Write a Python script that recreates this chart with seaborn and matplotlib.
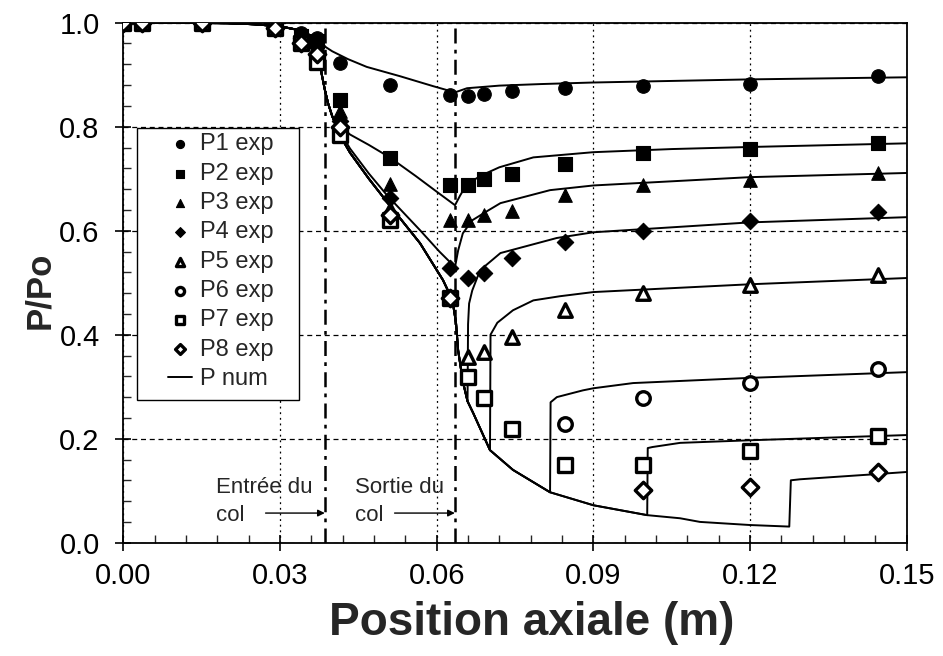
import numpy as np
import pandas as pd
import matplotlib
matplotlib.use("Agg")
import matplotlib.pyplot as plt
from matplotlib.patches import Rectangle
import seaborn as sns

sns.set_style("ticks")
plt.rcParams["font.family"] = ["Liberation Sans", "DejaVu Sans"]

# experimental pressure taps (x in m, P/Po)
x_exp = [0.0, 0.0035, 0.015, 0.029, 0.034, 0.037, 0.0415, 0.051, 0.0625,
         0.066, 0.069, 0.0745, 0.0845, 0.0995, 0.12, 0.1445]
nan = np.nan
p1_exp = [1.0, 1.0, 1.0, 0.995, 0.98, 0.97, 0.922, 0.880, 0.860,
          0.859, 0.863, 0.868, 0.875, 0.879, 0.883, 0.897]
p2_exp = [1.0, 1.0, 1.0, 0.99, 0.975, 0.965, 0.851, 0.740, 0.688,
          0.688, 0.699, 0.709, 0.728, 0.749, 0.757, 0.768]
p3_exp = [1.0, 1.0, 1.0, 0.99, 0.975, 0.96, 0.83, 0.689, 0.620,
          0.620, 0.630, 0.637, 0.668, 0.688, 0.697, 0.711]
p4_exp = [1.0, 1.0, 1.0, 0.99, 0.97, 0.955, 0.81, 0.662, 0.528,
          0.509, 0.519, 0.548, 0.578, 0.600, 0.618, 0.636]
p5_exp = [1.0, 1.0, 1.0, 0.99, 0.965, 0.95, 0.80, 0.640, 0.470,
          0.357, 0.367, 0.395, 0.447, 0.480, 0.495, 0.514]
p6_exp = [1.0, 1.0, 1.0, 0.99, 0.96, 0.93, 0.79, 0.625, 0.470,
          nan, nan, nan, 0.229, 0.278, 0.307, 0.334]
p7_exp = [1.0, 1.0, 1.0, 0.99, 0.96, 0.925, 0.785, 0.620, 0.470,
          0.319, 0.278, 0.218, 0.149, 0.149, 0.176, 0.205]
p8_exp = [1.0, 1.0, 1.0, 0.99, 0.96, 0.94, 0.80, 0.63, 0.47,
          nan, nan, nan, nan, 0.101, 0.107, 0.136]

# numerical curves
x_inlet = [0.0, 0.01, 0.02, 0.025, 0.03, 0.033, 0.035, 0.036]
y_inlet = [1.0, 1.0, 0.999, 0.997, 0.993, 0.987, 0.98, 0.974]

x_p1_num = [0.038, 0.040, 0.043, 0.0466, 0.053, 0.0593, 0.0635, 0.0658,
            0.072, 0.08, 0.09, 0.10, 0.12, 0.15]
y_p1_num = [0.958, 0.945, 0.93, 0.915, 0.897, 0.878, 0.866, 0.874,
            0.879, 0.882, 0.885, 0.887, 0.891, 0.895]

x_drop = [0.037, 0.0375, 0.038, 0.0386, 0.0392, 0.040]
y_drop = [0.955, 0.93, 0.90, 0.87, 0.845, 0.82]

x_p2_num = [0.041, 0.0434, 0.047, 0.051, 0.056, 0.060, 0.0635, 0.0645,
            0.0658, 0.0687, 0.072, 0.0785, 0.09, 0.105, 0.12, 0.15]
y_p2_num = [0.807, 0.785, 0.765, 0.741, 0.705, 0.675, 0.649, 0.668,
            0.69, 0.707, 0.722, 0.741, 0.751, 0.757, 0.761, 0.768]

x_p3_num = [0.0415, 0.0434, 0.047, 0.0505, 0.0568, 0.0605, 0.0635, 0.0641,
            0.065, 0.0668, 0.0697, 0.0722, 0.0817, 0.09, 0.12, 0.15]
y_p3_num = [0.79, 0.758, 0.71, 0.668, 0.601, 0.56, 0.53, 0.562,
            0.595, 0.62, 0.638, 0.653, 0.678, 0.687, 0.703, 0.711]

# supersonic branch shared by P4..P8
x_super = [0.0415, 0.0434, 0.047, 0.0505, 0.0568, 0.0612, 0.063, 0.0637,
           0.0641, 0.065, 0.0659, 0.067, 0.0702, 0.0746, 0.0817, 0.09,
           0.1003, 0.1066, 0.1104, 0.12, 0.1275]
y_super = [0.783, 0.75, 0.70, 0.655, 0.576, 0.505, 0.467, 0.422,
           0.37, 0.31, 0.272, 0.249, 0.178, 0.14, 0.097, 0.072,
           0.053, 0.047, 0.04, 0.034, 0.031]

x_p4_shock = [0.066, 0.0662, 0.0668, 0.0683, 0.0722, 0.083, 0.09, 0.12, 0.15]
y_p4_shock = [0.42, 0.46, 0.485, 0.524, 0.557, 0.586, 0.597, 0.616, 0.626]
x_p5_shock = [0.0703, 0.0716, 0.0746, 0.0785, 0.0836, 0.09, 0.12, 0.15]
y_p5_shock = [0.40, 0.423, 0.447, 0.466, 0.474, 0.482, 0.497, 0.509]
x_p6_shock = [0.0818, 0.083, 0.088, 0.09, 0.0976, 0.12, 0.15]
y_p6_shock = [0.27, 0.28, 0.293, 0.297, 0.307, 0.317, 0.328]
x_p7_shock = [0.1004, 0.1013, 0.1066, 0.12, 0.15]
y_p7_shock = [0.182, 0.184, 0.192, 0.197, 0.207]
x_p8_shock = [0.1278, 0.1296, 0.1443, 0.15]
y_p8_shock = [0.12, 0.122, 0.132, 0.136]

x_entree = 0.0386
x_sortie = 0.0635

# build tables
exp_series = {"P1 exp": p1_exp, "P2 exp": p2_exp, "P3 exp": p3_exp,
              "P4 exp": p4_exp, "P5 exp": p5_exp, "P6 exp": p6_exp,
              "P7 exp": p7_exp, "P8 exp": p8_exp}
marker_style = {"P1 exp": ("o", True), "P2 exp": ("s", True),
                "P3 exp": ("^", True), "P4 exp": ("D", True),
                "P5 exp": ("^", False), "P6 exp": ("o", False),
                "P7 exp": ("s", False), "P8 exp": ("D", False)}


def cut_super(x_end):
    xs = [x for x in x_super if x <= x_end]
    return xs, y_super[:len(xs)]


num_curves = []
num_curves.append((x_inlet + x_p1_num, y_inlet + y_p1_num))
num_curves.append((x_inlet + x_drop + x_p2_num, y_inlet + y_drop + y_p2_num))
num_curves.append((x_inlet + x_drop + x_p3_num, y_inlet + y_drop + y_p3_num))
for x_jump, xs_sh, ys_sh in [(0.0659, x_p4_shock, y_p4_shock),
                             (0.0702, x_p5_shock, y_p5_shock),
                             (0.0817, x_p6_shock, y_p6_shock),
                             (0.1003, x_p7_shock, y_p7_shock),
                             (0.1275, x_p8_shock, y_p8_shock)]:
    xs, ys = cut_super(x_jump)
    num_curves.append((x_inlet + x_drop + xs + xs_sh,
                       y_inlet + y_drop + ys + ys_sh))

# figure
fig = plt.figure(figsize=(9.43, 6.56), dpi=100)
ax = fig.add_axes([0.1308, 0.1727, 0.8308, 0.7927])

for i, (xs, ys) in enumerate(num_curves):
    df_num = pd.DataFrame({"x": xs, "y": ys})
    sns.lineplot(data=df_num, x="x", y="y", ax=ax, sort=False,
                 estimator=None, color="black", lw=1.4,
                 label="P num" if i == 0 else None, legend=False, zorder=3)

for name, vals in exp_series.items():
    df_exp = pd.DataFrame({"x": x_exp, "y": vals}).dropna()
    mk, filled = marker_style[name]
    size = 95 if mk != "D" else 70
    sns.scatterplot(data=df_exp, x="x", y="y", ax=ax, marker=mk, s=size,
                    color="black" if filled else "white",
                    edgecolor="black", linewidth=0.8 if filled else 2.4,
                    label=name, legend=False, zorder=4)

# throat lines
for xv in [x_entree, x_sortie]:
    ax.axvline(xv, color="black", lw=1.8, ls=(0, (6, 2.5, 1.5, 2.5)), zorder=2)

ax.set_xlim(0, 0.15)
ax.set_ylim(0, 1.0)
ax.set_xticks([0.0, 0.03, 0.06, 0.09, 0.12, 0.15])
ax.set_xticklabels(["0.00", "0.03", "0.06", "0.09", "0.12", "0.15"])
ax.set_yticks([0.0, 0.2, 0.4, 0.6, 0.8, 1.0])
ax.set_yticklabels(["0.0", "0.2", "0.4", "0.6", "0.8", "1.0"])
ax.set_xticks(np.arange(0, 0.1501, 0.006), minor=True)
ax.set_yticks(np.arange(0, 1.001, 0.04), minor=True)
ax.tick_params(which="major", direction="inout", length=12, width=1.2,
               labelsize=21, colors="black")
ax.tick_params(axis="y", which="major", pad=11)
ax.tick_params(axis="x", which="major", pad=8)
ax.tick_params(which="minor", direction="in", length=6, width=1.0)

ax.xaxis.grid(True, which="major", color="black", lw=0.9, ls=(0, (1.5, 3)))
ax.yaxis.grid(True, which="major", color="black", lw=0.9, ls=(0, (4, 3)))
ax.set_axisbelow(True)
for sp in ax.spines.values():
    sp.set_color("black")
    sp.set_linewidth(1.3)

ax.set_xlabel("Position axiale (m)", fontsize=33, fontweight="bold")
ax.set_ylabel("P/Po", fontsize=25, fontweight="bold")
ax.xaxis.set_label_coords(0.5216, -0.112)
ax.yaxis.set_label_coords(-0.086, 0.486)

# throat annotations
ax.text(0.0178, 0.107, "Entrée du", fontsize=16, va="center", ha="left")
ax.text(0.0178, 0.053, "col", fontsize=16, va="center", ha="left")
ax.annotate("", xy=(x_entree + 0.0005, 0.057), xytext=(0.0267, 0.057),
            arrowprops=dict(arrowstyle="-|>", color="black", lw=1.0,
                            mutation_scale=10))
ax.text(0.0444, 0.107, "Sortie du", fontsize=16, va="center", ha="left")
ax.text(0.0444, 0.053, "col", fontsize=16, va="center", ha="left")
ax.annotate("", xy=(x_sortie + 0.0005, 0.057), xytext=(0.0514, 0.057),
            arrowprops=dict(arrowstyle="-|>", color="black", lw=1.0,
                            mutation_scale=10))

# legend: frame drawn separately so the side padding matches
ax.add_patch(Rectangle((0.0175, 0.2744), 0.2062, 0.5231, transform=ax.transAxes,
                       facecolor="white", edgecolor="black", lw=1.0, zorder=5))
handles, labels = ax.get_legend_handles_labels()
order = [labels.index(n) for n in list(exp_series.keys()) + ["P num"]]
leg = ax.legend([handles[i] for i in order], [labels[i] for i in order],
                loc="upper left", bbox_to_anchor=(0.0573, 0.787),
                borderaxespad=0, borderpad=0, fontsize=17, markerscale=0.6,
                labelspacing=0.31, handlelength=1.0, handletextpad=0.35,
                frameon=False)
leg.set_zorder(6)

fig.savefig("out.png", dpi=100)
